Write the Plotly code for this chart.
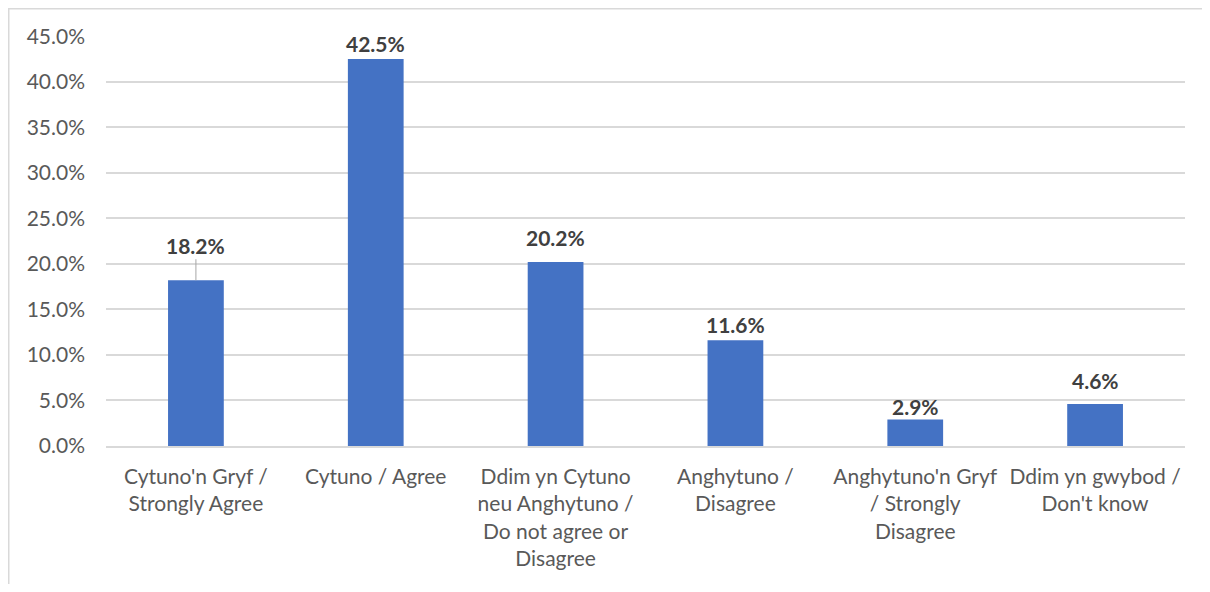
import plotly.graph_objects as go

categories = [
    "Cytuno'n Gryf /<br>Strongly Agree",
    "Cytuno / Agree",
    "Ddim yn Cytuno<br>neu Anghytuno /<br>Do not agree or<br>Disagree",
    "Anghytuno /<br>Disagree",
    "Anghytuno'n Gryf<br>/ Strongly<br>Disagree",
    "Ddim yn gwybod /<br>Don't know",
]
values = [18.2, 42.5, 20.2, 11.6, 2.9, 4.6]
tick_vals = [0, 5, 10, 15, 20, 25, 30, 35, 40, 45]
tick_text = ["0.0%", "5.0%", "10.0%", "15.0%", "20.0%", "25.0%", "30.0%", "35.0%", "40.0%", "45.0%"]

# styling: label pixel offsets above bar tops (Excel label placement)
label_shift = [35, 15, 25, 16, 13, 24]

BAR = "#4472C4"
GRID = "#D9D9D9"
TXT = "#595959"
LBL = "#404040"
FONT = "Lato, Carlito, Calibri, sans-serif"

OFF = 8  # default page body margin (both sides)
W, H = 1210 - 2 * OFF, 592 - 2 * OFF
ML, MT = 106 - OFF, 36 - OFF
PW, PH = 1079, 410
MR = W - ML - PW
MB = H - MT - PH

fig = go.Figure()
fig.add_trace(go.Bar(x=categories, y=values, marker=dict(color=BAR, line=dict(width=0)),
                     hoverinfo="skip"))

for c, v, s in zip(categories, values, label_shift):
    if s > 30:
        fig.add_annotation(x=c, y=v, text=f"<b>{v:.1f}%</b>", showarrow=True, ax=0, ay=-s,
                           arrowhead=0, arrowwidth=1, arrowcolor="#A6A6A6", standoff=0,
                           font=dict(family=FONT, size=21, color=LBL))
    else:
        fig.add_annotation(x=c, y=v, text=f"<b>{v:.1f}%</b>", showarrow=False, yshift=s,
                           font=dict(family=FONT, size=21, color=LBL))

# chart-area border: only left and top edges fall inside the canvas
xl = (0.75 - ML) / PW
xr = (W - ML) / PW
yt = 1 + (MT - 0.75) / PH
yb = (MT + PH - H) / PH
fig.add_shape(type="path", xref="paper", yref="paper",
              path=f"M {xr},{yt} L {xl},{yt} L {xl},{yb}",
              line=dict(color=GRID, width=1.5), layer="below")

fig.update_layout(
    width=W, height=H,
    margin=dict(l=ML, r=MR, t=MT, b=MB),
    paper_bgcolor="white", plot_bgcolor="white",
    bargap=0.69,
    showlegend=False,
    font=dict(family=FONT, size=21, color=TXT),
)
fig.update_yaxes(range=[0, 45.02], tickvals=tick_vals, ticktext=tick_text,
                 showgrid=True, gridcolor=GRID, gridwidth=1.5, zeroline=False,
                 showline=False, ticks="", ticklabelstandoff=20,
                 tickfont=dict(family=FONT, size=21, color=TXT))
fig.update_xaxes(showgrid=False, showline=True, linecolor=GRID, linewidth=1.5,
                 ticks="", tickangle=0, ticklabelstandoff=11,
                 tickfont=dict(family=FONT, size=21, color=TXT))

fig.write_html("out.html")
